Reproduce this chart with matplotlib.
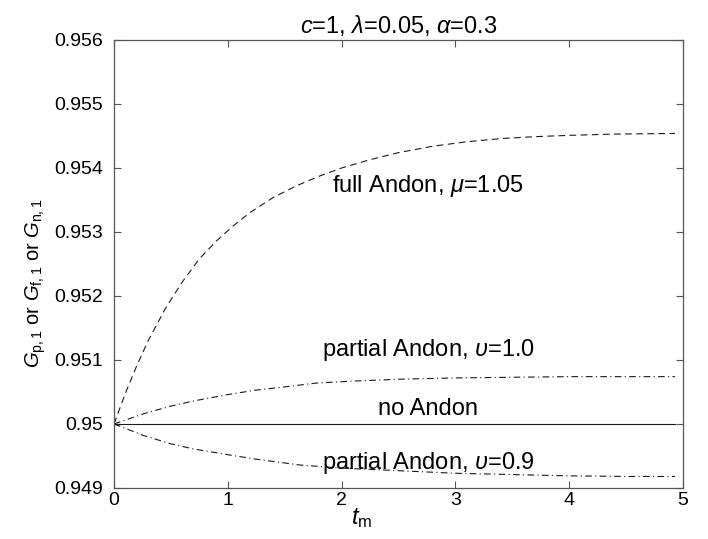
import matplotlib
matplotlib.use("Agg")
import matplotlib.pyplot as plt

plt.rcParams['font.family'] = ['Liberation Sans', 'DejaVu Sans']
plt.rcParams['mathtext.fontset'] = 'custom'
plt.rcParams['mathtext.rm'] = 'Liberation Sans'
plt.rcParams['mathtext.it'] = 'Liberation Sans:italic'

# full Andon, mu = 1.05
t_full = [0, 0.1, 0.2, 0.3, 0.45, 0.6, 0.75, 0.9, 1.05, 1.2, 1.4, 1.6, 1.8, 2.0,
          2.25, 2.5, 2.8, 3.1, 3.4, 3.7, 4.0, 4.4, 4.93]
g_full = [0.95, 0.95048, 0.95091, 0.9513, 0.9518, 0.95222, 0.95258, 0.95286, 0.9531,
          0.95331, 0.95354, 0.95372, 0.95387, 0.954, 0.95413, 0.95424, 0.95434,
          0.95441, 0.95446, 0.95449, 0.95451, 0.95453, 0.95454]

# partial Andon, v = 1.0
t_p10 = [0, 0.26, 0.5, 0.7, 1.0, 1.25, 1.5, 1.78, 2.1, 2.51, 3.0, 3.5, 4.0, 4.5, 4.93]
g_p10 = [0.95, 0.95016, 0.95028, 0.95036, 0.95046, 0.95053, 0.95058, 0.95064, 0.95067,
         0.9507, 0.95072, 0.95073, 0.95074, 0.95074, 0.95074]

# partial Andon, v = 0.9
t_p09 = [0, 0.26, 0.5, 0.7, 1.0, 1.25, 1.63, 2.0, 2.51, 3.0, 3.5, 4.0, 4.5, 4.93]
g_p09 = [0.95, 0.94982, 0.94969, 0.94961, 0.94952, 0.94945, 0.94936, 0.94931, 0.94927,
         0.94923, 0.94921, 0.94919, 0.94918, 0.94918]

# no Andon
t_none = [0, 4.93]
g_none = [0.95, 0.95]

xticks = [0, 1, 2, 3, 4, 5]
yticks = [0.949, 0.95, 0.951, 0.952, 0.953, 0.954, 0.955, 0.956]
ytick_labels = ['0.949', '0.95', '0.951', '0.952', '0.953', '0.954', '0.955', '0.956']

fig = plt.figure(figsize=(7.08, 5.39), dpi=100)
ax = fig.add_axes([114/708, 1-488/539, (683-114)/708, (488-40)/539])

lc = '#1a1a1a'
ax.plot(t_full, g_full, color=lc, lw=0.8, dashes=(6, 4))
ax.plot(t_p10, g_p10, color=lc, lw=0.8, dashes=(6, 3, 1, 3))
ax.plot(t_p09, g_p09, color=lc, lw=0.8, dashes=(6, 3, 1, 3))
ax.plot(t_none, g_none, color=lc, lw=0.8)

ax.set_xlim(0, 5)
ax.set_ylim(0.949, 0.956)
ax.set_xticks(xticks)
ax.set_xticklabels([str(v) for v in xticks])
ax.set_yticks(yticks)
ax.set_yticklabels(ytick_labels)
ax.tick_params(direction='in', length=5, width=0.8, color='#555555',
               top=True, right=True, labelsize=14)
ax.tick_params(axis='x', pad=3)
ax.tick_params(axis='y', pad=8)
for s in ax.spines.values():
    s.set_color('#555555')
    s.set_linewidth(0.9)

fs = 17
ax.text(2.76, 0.95372, r'full Andon, $\mu$=1.05', ha='center', va='center', fontsize=fs)
ax.text(2.76, 0.95116, r'partial Andon, $\upsilon$=1.0', ha='center', va='center', fontsize=fs)
ax.text(2.76, 0.95023, 'no Andon', ha='center', va='center', fontsize=fs)
ax.text(2.76, 0.94939, r'partial Andon, $\upsilon$=0.9', ha='center', va='center', fontsize=fs)

ax.set_title(r'$c$=1, $\lambda$=0.05, $\alpha$=0.3', fontsize=fs, pad=5)
ax.set_xlabel(r'$t_{\rm m}$', fontsize=fs)
ax.xaxis.set_label_coords(0.435, -0.04)
ax.set_ylabel(r'$G_{\rm p,1}$ or $G_{\rm f,1}$ or $G_{\rm n,1}$', fontsize=14.5)
ax.yaxis.set_label_coords(-0.116, 0.457)

fig.savefig('out.png', dpi=100)
